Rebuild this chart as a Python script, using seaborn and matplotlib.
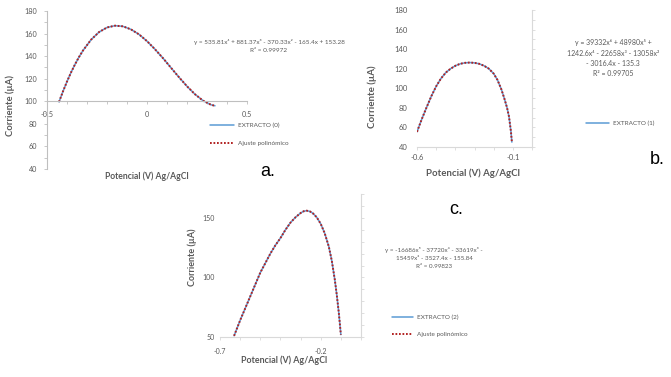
import matplotlib
matplotlib.use("Agg")
import matplotlib.pyplot as plt
import pandas as pd
import seaborn as sns
from matplotlib.ticker import MultipleLocator

# --- data ---
xa = [-0.44, -0.42, -0.40, -0.38, -0.36, -0.34, -0.32, -0.28, -0.24, -0.20, -0.16, -0.12, -0.08, -0.04,
      0.00, 0.04, 0.08, 0.12, 0.16, 0.20, 0.24, 0.28, 0.32, 0.34]
ya = [99.4, 108.8, 117.5, 125.5, 132.7, 139.2, 145.0, 154.5, 161.3, 165.4, 167.0, 166.4, 163.7, 159.3,
      153.3, 146.1, 138.2, 129.7, 121.3, 113.3, 106.2, 100.6, 96.9, 96.0]

xb = [-0.60, -0.575, -0.55, -0.525, -0.50, -0.475, -0.45, -0.425, -0.40, -0.375, -0.35, -0.325,
      -0.30, -0.275, -0.25, -0.225, -0.20, -0.18, -0.16, -0.145, -0.13, -0.12, -0.11, -0.105]
yb = [55.5, 68.5, 80.5, 92.0, 102.0, 110.0, 116.0, 120.0, 123.0, 125.0, 126.0, 126.3,
      126.0, 125.0, 123.0, 120.0, 115.0, 108.5, 99.0, 90.0, 80.0, 71.0, 56.0, 45.0]

xc = [-0.63, -0.615, -0.60, -0.575, -0.55, -0.525, -0.50, -0.475, -0.45, -0.425, -0.40, -0.375,
      -0.35, -0.325, -0.30, -0.285, -0.27, -0.255, -0.24, -0.22, -0.20, -0.18, -0.16, -0.145,
      -0.13, -0.12, -0.11, -0.10]
yc = [51, 57.5, 64, 74, 84, 94, 104, 112, 120, 127, 133, 140,
      146, 150.5, 154, 155.5, 156, 155.5, 154, 150.5, 145, 137, 126, 114,
      98, 85, 70, 52]

labels_extracto = ["EXTRACTO (0)", "EXTRACTO (1)", "EXTRACTO (2)"]
label_fit = "Ajuste polinómico"

eq_a = ["y = 535.81x⁴ + 881.37x³ - 370.33x² - 165.4x + 153.28", "R² = 0.99972"]
eq_b = ["y = 39332x⁶ + 48980x⁵ +", "1242.6x⁴ - 22658x³ - 13058x²", "- 3016.4x - 135.3", "R² = 0.99705"]
eq_c = ["y = -16686x⁵ - 37720x⁴ - 33619x³ -", "15459x² - 3527.4x - 155.84", "R² = 0.99823"]

sns.set_style("white")
plt.rcParams["font.family"] = ["Lato", "DejaVu Sans"]

TXT = "#595959"
BLUE = "#5b9bd5"
RED = "#b22222"
W, H = 671, 377

fig = plt.figure(figsize=(6.71, 3.77), dpi=100)


def box(l, t, r, b):
    return [l / W, 1 - b / H, (r - l) / W, (b - t) / H]


def px(x, y):
    return x / W, 1 - y / H


def curves(ax, x, y, lab):
    df = pd.DataFrame({"x": x, "y": y})
    sns.lineplot(data=df, x="x", y="y", ax=ax, color=BLUE, lw=1.1, label=lab)
    sns.lineplot(data=df, x="x", y="y", ax=ax, color=RED, lw=1.4, ls=(0, (0.9, 0.9)), label=label_fit)
    if ax.get_legend() is not None:
        ax.get_legend().remove()
    ax.set_xlabel("")
    ax.set_ylabel("")
    return ax.get_legend_handles_labels()


ax_a = fig.add_axes(box(47, 11, 247, 169))
ax_b = fig.add_axes(box(417, 10, 532, 147))
ax_c = fig.add_axes(box(220, 194, 361, 337))

ha, la = curves(ax_a, xa, ya, labels_extracto[0])
hb, lb = curves(ax_b, xb, yb, labels_extracto[1])
hc, lc = curves(ax_c, xc, yc, labels_extracto[2])

# panel a: Excel style axes crossing at y=100
ax_a.set_xlim(-0.5, 0.5)
ax_a.set_ylim(40, 180)
ax_a.set_xticks([-0.5, 0, 0.5])
ax_a.set_xticklabels(["-0.5", "0", "0.5"])
ax_a.set_yticks(range(40, 181, 20))
ax_a.xaxis.set_minor_locator(MultipleLocator(0.1))
ax_a.yaxis.set_minor_locator(MultipleLocator(10))
ax_a.spines["bottom"].set_position(("data", 100))
for s in ["top", "right"]:
    ax_a.spines[s].set_visible(False)
for s in ["left", "bottom"]:
    ax_a.spines[s].set_color("#bfbfbf")
    ax_a.spines[s].set_linewidth(0.8)
ax_a.tick_params(which="both", direction="out", length=2, width=0.6, color="#bfbfbf",
                 left=True, bottom=True)
ax_a.tick_params(axis="y", labelsize=5.2, labelcolor=TXT, pad=5)
ax_a.tick_params(axis="x", labelsize=5.2, labelcolor=TXT, pad=5)

# panels b and c
for ax, lo, ticks, ylim, yt, ys, ypad, xpad in [
    (ax_b, -0.6, [-0.6, -0.1], (40, 180), range(40, 181, 20), 5.5, 5, 3),
    (ax_c, -0.7, [-0.7, -0.2], (50, 170), [50, 100, 150], 5.0, 1.5, 6),
]:
    ax.set_xlim(lo, 0)
    ax.set_ylim(*ylim)
    ax.set_xticks(ticks)
    ax.set_xticklabels([f"{t:.1f}" for t in ticks])
    ax.set_yticks(list(yt))
    ax.xaxis.set_minor_locator(MultipleLocator(0.1))
    ax.yaxis.set_minor_locator(MultipleLocator(10))
    ax.spines["left"].set_visible(False)
    ax.spines["top"].set_visible(False)
    for s in ["right", "bottom"]:
        ax.spines[s].set_color("#d9d9d9")
        ax.spines[s].set_linewidth(0.8)
    ax.tick_params(which="both", direction="out", length=2, width=0.6, color="#d9d9d9",
                   bottom=True, left=False, right=True, labelleft=True, labelright=False)
    ax.tick_params(axis="y", labelsize=ys, labelcolor=TXT, pad=ypad)
    ax.tick_params(axis="x", labelsize=ys, labelcolor=TXT, pad=xpad)

# axis titles
lab_kw = dict(color=TXT, fontweight="bold", ha="center", va="center")
fig.text(*px(10, 105), "Corriente (µA)", rotation=90, fontsize=6.8, **lab_kw)
fig.text(*px(147, 176), "Potencial (V) Ag/AgCl", fontsize=6.2, **lab_kw)
fig.text(*px(372, 97), "Corriente (µA)", rotation=90, fontsize=7, **lab_kw)
fig.text(*px(473, 173), "Potencial (V) Ag/AgCl", fontsize=6.9, **lab_kw)
fig.text(*px(192, 257), "Corriente (µA)", rotation=90, fontsize=6.5, **lab_kw)
fig.text(*px(284, 360), "Potencial (V) Ag/AgCl", fontsize=6.4, **lab_kw)

# trendline equations
for lines, cx, y0, dy, fs in [(eq_a, 269, 42, 9, 4.6), (eq_b, 613, 43, 10, 5.0), (eq_c, 434, 250, 8, 4.5)]:
    for i, t in enumerate(lines):
        fig.text(*px(cx, y0 + i * dy), t, fontsize=fs, color=TXT, ha="center", va="center")

# legends
leg_kw = dict(loc="upper left", frameon=False, borderpad=0, borderaxespad=0,
              handletextpad=0.6, prop={"size": 4.6}, labelcolor=TXT)
fig.legend(ha, la, bbox_to_anchor=px(210, 123), handlelength=3.8, labelspacing=1.9, **leg_kw)
fig.legend(hb[:1], lb[:1], bbox_to_anchor=px(586, 121), handlelength=3.6, **leg_kw)
fig.legend(hc, lc, bbox_to_anchor=px(392, 315), handlelength=3.3, labelspacing=1.7, **leg_kw)

# panel letters
let_kw = dict(fontsize=13, color="black", family=["Liberation Sans", "DejaVu Sans"], ha="center", va="center")
fig.text(*px(268, 171), "a.", **let_kw)
fig.text(*px(657, 159), "b.", **let_kw)
fig.text(*px(456, 210), "c.", **let_kw)

fig.savefig("out.png", dpi=100, facecolor="white")
